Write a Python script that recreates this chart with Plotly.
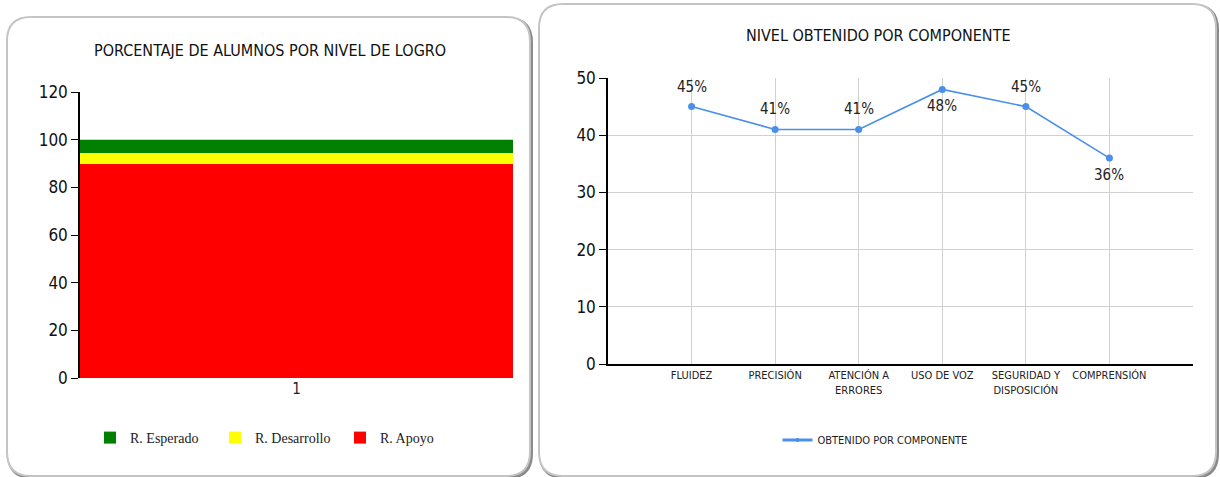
import plotly.graph_objects as go

W, H = 1220, 477

# ---- data ----
bar_category = ["1"]
bar_series = ["R. Apoyo", "R. Desarrollo", "R. Esperado"]
bar_values = [[89.8], [4.7], [5.5]]
bar_colors = ["#ff0000", "#ffff00", "#008000"]

components = ["FLUIDEZ", "PRECISIÓN", "ATENCIÓN A<br>ERRORES", "USO DE VOZ",
              "SEGURIDAD Y<br>DISPOSICIÓN", "COMPRENSIÓN"]
component_values = [45, 41, 41, 48, 45, 36]
label_above = [True, True, True, False, True, False]

NARROW = "Liberation Sans Narrow, Arial Narrow, DejaVu Sans Condensed, sans-serif"
SERIF = "Liberation Serif, DejaVu Serif Condensed, serif"
BLUE = "#4a8fe8"

fig = go.Figure()

for name, vals, col in zip(bar_series, bar_values, bar_colors):
    fig.add_trace(go.Bar(x=bar_category, y=vals, name=name, marker=dict(color=col, line=dict(width=0)),
                         xaxis="x", yaxis="y", legend="legend", width=1))

fig.add_trace(go.Scatter(x=components, y=component_values, mode="lines+markers",
                         line=dict(color=BLUE, width=1.6), marker=dict(size=7, color=BLUE),
                         xaxis="x2", yaxis="y2", showlegend=False, cliponaxis=False))
fig.add_trace(go.Scatter(x=[None], y=[None], mode="lines+markers", name="OBTENIDO POR COMPONENTE",
                         line=dict(color=BLUE, width=3), marker=dict(size=4, color=BLUE),
                         xaxis="x2", yaxis="y2", legend="legend2"))

def px(x):
    return x / W

def py(y):
    return 1 - y / H

def rounded(x0, y0, x1, y1, r):
    rx, ry = r / W, r / H
    X0, X1, Y0, Y1 = px(x0), px(x1), py(y0), py(y1)
    return (f"M {X0+rx},{Y0} L {X1-rx},{Y0} Q {X1},{Y0} {X1},{Y0-ry} "
            f"L {X1},{Y1+ry} Q {X1},{Y1} {X1-rx},{Y1} L {X0+rx},{Y1} "
            f"Q {X0},{Y1} {X0},{Y1+ry} L {X0},{Y0-ry} Q {X0},{Y0} {X0+rx},{Y0} Z")

shapes = []
for (x0, y0, x1, y1) in [(7, 17, 530, 476), (539, 4, 1216, 476)]:
    shapes.append(dict(type="path", xref="paper", yref="paper", path=rounded(x0 + 1.5, y0 + 1.5, x1 + 1.5, y1 + 1.5, 24),
                       line=dict(color="#8a8a8a", width=3), fillcolor="rgba(0,0,0,0)", layer="below"))
    shapes.append(dict(type="path", xref="paper", yref="paper", path=rounded(x0, y0, x1, y1, 24),
                       line=dict(color="#c4c4c4", width=2), fillcolor="white", layer="below"))

annotations = [
    dict(text="PORCENTAJE DE ALUMNOS POR NIVEL DE LOGRO", x=px(270), y=py(50), xref="paper", yref="paper",
         showarrow=False, font=dict(family=NARROW, size=16, color="#111"), xanchor="center", yanchor="middle"),
    dict(text="NIVEL OBTENIDO POR COMPONENTE", x=px(878), y=py(35), xref="paper", yref="paper",
         showarrow=False, font=dict(family=NARROW, size=16, color="#111"), xanchor="center", yanchor="middle"),
]
for cat, val, above in zip(components, component_values, label_above):
    annotations.append(dict(text=f"{val}%", x=cat, y=val, xref="x2", yref="y2", showarrow=False,
                            xanchor="center", yanchor="middle", yshift=20 if above else -17,
                            font=dict(family=NARROW, size=15, color="#222")))

fig.update_layout(
    template="none",
    width=W, height=H, margin=dict(l=0, r=0, t=0, b=0, pad=0), autosize=False,
    paper_bgcolor="white", plot_bgcolor="rgba(0,0,0,0)",
    barmode="stack", bargap=0,
    shapes=shapes,
    annotations=annotations,
    xaxis=dict(domain=[px(80), px(513)], range=[-0.5, 0.5], type="category", showgrid=False,
               showline=False, ticks="", automargin=False,
               tickfont=dict(family=NARROW, size=15, color="#222")),
    yaxis=dict(domain=[py(378), py(92)], range=[0, 120], dtick=20, showgrid=True, gridcolor="#d0d0d0",
               showline=True, linecolor="black", linewidth=1.5, ticks="outside", ticklen=7,
               tickcolor="black", automargin=False,
               tickfont=dict(family=NARROW, size=17, color="#111"), zeroline=False),
    xaxis2=dict(domain=[px(608), px(1193)], range=[-1, 6], type="category", showgrid=True,
                gridcolor="#d0d0d0", showline=True, linecolor="black", linewidth=2, ticks="",
                automargin=False,
                tickfont=dict(family=NARROW, size=11, color="#222"), anchor="y2"),
    yaxis2=dict(domain=[py(364), py(78)], range=[0, 50], dtick=10, showgrid=True, gridcolor="#d0d0d0",
                showline=True, linecolor="black", linewidth=1.5, ticks="outside", ticklen=7,
                tickcolor="black", automargin=False,
                tickfont=dict(family=NARROW, size=17, color="#111"), zeroline=False,
                anchor="x2"),
    legend=dict(orientation="h", x=px(90), y=py(438), xanchor="left", yanchor="middle",
                traceorder="reversed", font=dict(family=SERIF, size=14, color="#222"),
                entrywidth=80, bgcolor="rgba(0,0,0,0)"),
    legend2=dict(orientation="h", x=px(875), y=py(440), xanchor="center", yanchor="middle",
                 font=dict(family=NARROW, size=11, color="#222"), bgcolor="rgba(0,0,0,0)"),
)

fig.write_html("out.html", config={"displayModeBar": False},
               post_script="document.body.style.margin='0';document.body.style.overflow='hidden';")
